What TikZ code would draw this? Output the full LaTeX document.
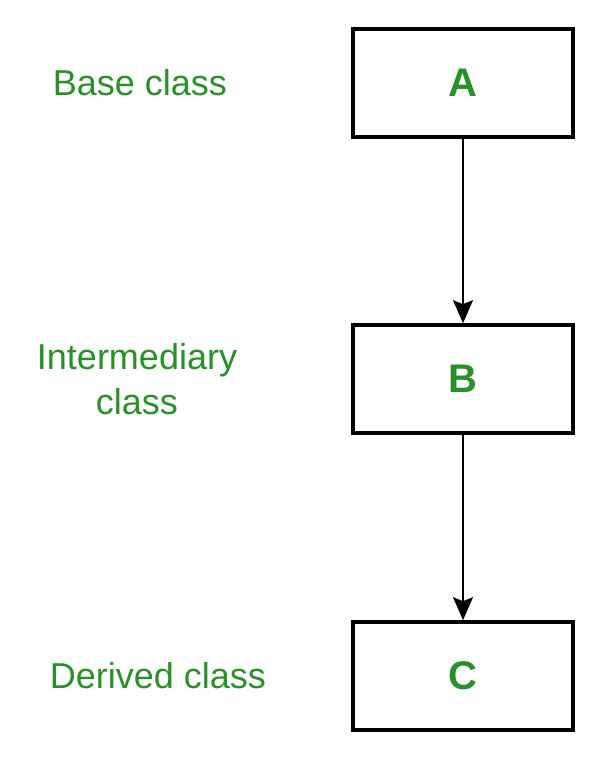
\documentclass[tikz,border=0pt]{standalone}
\usepackage{fontspec}
\setmainfont{Liberation Sans}
\usetikzlibrary{arrows.meta}
\usetikzlibrary{positioning}

\definecolor{lblgreen}{RGB}{38,146,38}

\tikzset{
  classbox/.style={draw, line width=3.6pt, minimum width=220pt, minimum height=108pt,
    text=lblgreen, font=\bfseries\fontsize{40}{44}\selectfont},
  classlbl/.style={text=lblgreen, align=center, font=\fontsize{36}{45}\selectfont}
}

\begin{document}
\begin{tikzpicture}[x=1pt,y=1pt,node distance=296pt,on grid,
    >={Stealth[length=23pt,width=20pt,inset=4pt]}]
  \useasboundingbox (0,0) rectangle (597,-757);
  \node[classbox] (A) at (463,-83) {A};
  \node[classbox] [below=of A] (B) {B};
  \node[classbox] [below=297pt of B] (C) {C};
  \node[classlbl] [left=323pt of A] (lA) {Base class};
  \node[classlbl] [left=326pt of B] (lB) {Intermediary\\class};
  \node[classlbl] [left=305pt of C] (lC) {Derived class};
  \path[->, line width=1.6pt]
    (A) edge (B)
    (B) edge (C);
\end{tikzpicture}
\end{document}
